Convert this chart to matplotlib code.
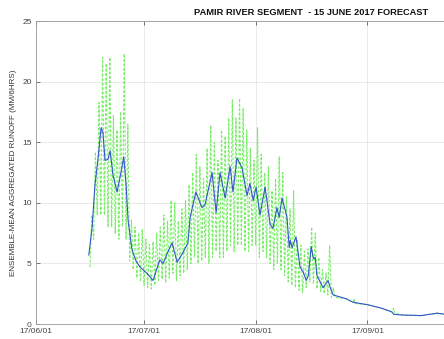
import matplotlib
matplotlib.use('Agg')
import matplotlib.pyplot as plt
import matplotlib.dates as mdates
import numpy as np

plt.rcParams['font.family'] = ['Liberation Sans', 'DejaVu Sans']

start = np.datetime64('2017-06-01T00')

# ensemble mean (days after 2017-06-01, mm/6hrs)
mean_day = [14.7, 15.6, 16.4, 17.2, 18.1, 18.6, 19.2, 20.0, 20.6, 21.4, 22.5, 23.6,
            24.4, 25.0, 25.6, 26.7, 27.8, 28.9, 30.8, 32.5, 33.6, 34.4, 35.3, 36.7,
            37.8, 39.2, 40.8, 42.2, 42.8, 44.4, 46.1, 46.9, 48.9, 50.0, 51.1, 52.5,
            53.9, 54.7, 55.8, 57.2, 58.6, 59.4, 60.3, 61.1, 62.2, 63.6, 65.0, 65.8,
            66.9, 67.5, 68.3, 69.2, 69.7, 70.3, 70.6, 71.1, 72.2, 73.3, 74.2, 75.0,
            75.6, 76.4, 77.0, 77.5, 78.0, 79.7, 81.1, 81.7, 82.5, 86.0, 88.0, 92.0,
            96.0, 98.8, 99.3, 101.7, 106.9, 111.4, 116.0, 121.0]
mean_val = [5.7, 8.0, 11.5, 13.5, 16.2, 15.8, 13.5, 13.6, 14.3, 12.3, 10.9, 12.5,
            13.8, 11.5, 8.5, 6.1, 5.2, 4.7, 4.2, 3.6, 4.6, 5.3, 5.0, 6.0,
            6.7, 5.1, 5.9, 6.7, 8.8, 10.9, 9.6, 9.8, 12.5, 9.2, 12.5, 10.4,
            13.0, 10.9, 13.7, 12.9, 10.6, 11.6, 10.2, 11.3, 9.0, 11.3, 8.2, 7.9,
            9.6, 8.8, 10.4, 9.4, 8.8, 6.3, 6.9, 6.3, 7.2, 4.7, 4.3, 3.6,
            4.0, 6.4, 5.4, 5.5, 4.0, 3.0, 3.6, 3.0, 2.4, 2.1, 1.8, 1.6,
            1.3, 1.0, 0.8, 0.75, 0.7, 0.9, 0.7, 0.5]

# daily ensemble spread, high and low values
spread_day = list(range(15, 83))
spread_hi = [9.0, 14.2, 18.3, 22.0, 21.5, 22.0, 17.2, 16.0, 17.5, 22.3, 16.5, 8.6,
             8.0, 7.5, 7.8, 7.0, 6.6, 6.8, 7.5, 8.0, 9.0, 8.5, 10.2, 10.0,
             8.5, 9.5, 10.2, 11.5, 12.5, 14.0, 13.0, 12.0, 14.5, 16.4, 15.0, 13.5,
             16.0, 15.5, 17.0, 18.5, 17.0, 18.6, 17.8, 16.0, 14.5, 13.5, 16.2, 14.0,
             12.5, 13.0, 11.0, 12.0, 13.8, 12.5, 10.5, 9.5, 11.0, 7.0, 6.5, 6.0,
             6.2, 8.0, 7.5, 5.5, 4.5, 4.2, 6.5, 3.0]
spread_lo = [4.7, 7.0, 9.0, 9.0, 9.0, 8.0, 8.0, 7.5, 7.0, 8.0, 7.0, 5.2,
             4.5, 3.8, 3.5, 3.2, 3.0, 2.9, 3.2, 3.6, 3.7, 3.4, 3.8, 4.2,
             3.6, 4.0, 4.2, 4.5, 5.0, 5.5, 5.0, 5.2, 5.5, 5.0, 5.5, 6.0,
             5.5, 5.5, 6.0, 6.5, 6.0, 6.5, 6.5, 6.0, 6.0, 6.5, 6.5, 5.5,
             6.0, 5.5, 5.0, 4.5, 5.0, 4.5, 4.0, 3.5, 3.2, 3.0, 2.8, 2.6,
             3.0, 3.5, 3.3, 2.9, 2.7, 2.5, 2.4, 2.2]

# tail of the spread, close to the mean
tail_day = [83.0, 86.0, 88.0, 88.3, 88.6, 92.0, 96.0, 98.8, 99.3, 99.6, 101.7, 106.9, 111.4, 116.0, 121.0]
tail_val = [2.2, 2.1, 1.8, 2.1, 1.7, 1.6, 1.3, 1.0, 1.3, 0.9, 0.75, 0.7, 0.9, 0.7, 0.5]


def to_dates(days):
    return start + (np.array(days) * 24).astype(int).astype('timedelta64[h]')


# zig-zag between low and high each day
zz_day, zz_val = [], []
for d, hi, lo in zip(spread_day, spread_hi, spread_lo):
    zz_day += [d, d + 0.5]
    zz_val += [lo, hi]
zz_day += tail_day
zz_val += tail_val

fig = plt.figure(figsize=(4.44, 3.39), dpi=100)
ax = fig.add_axes([0.081, 0.044, 0.982, 0.894])

ax.plot(to_dates(zz_day), zz_val, '--', color='#77ee66', lw=0.8, dashes=(2.5, 1.5))
ax.plot(to_dates(mean_day), mean_val, '-', color='#3355cc', lw=0.8)

ax.set_xlim(np.datetime64('2017-06-01'), np.datetime64('2017-09-30'))
ax.set_ylim(0, 25)
ax.set_yticks([0, 5, 10, 15, 20, 25])
ax.xaxis.set_major_locator(mdates.MonthLocator())
ax.xaxis.set_major_formatter(mdates.DateFormatter('%y/%m/%d'))
ax.grid(True, color='#e6e6e6', lw=0.6)
ax.tick_params(direction='in', length=3, width=0.5, labelsize=6, colors='#444444',
               top=True, right=True)
ax.tick_params(axis='x', pad=3)
ax.tick_params(axis='y', pad=3)
for s in ax.spines.values():
    s.set_color('#999999')
    s.set_linewidth(0.6)

ax.set_ylabel('ENSEMBLE-MEAN AGGREGATED RUNOFF (MM/6HRS)', fontsize=5.8, color='#333333', labelpad=4)
fig.text(0.70, 0.962, 'PAMIR RIVER SEGMENT  - 15 JUNE 2017 FORECAST', ha='center', va='center',
         fontsize=6.7, fontweight='bold', color='#111111')

fig.savefig('out.png', dpi=100)
